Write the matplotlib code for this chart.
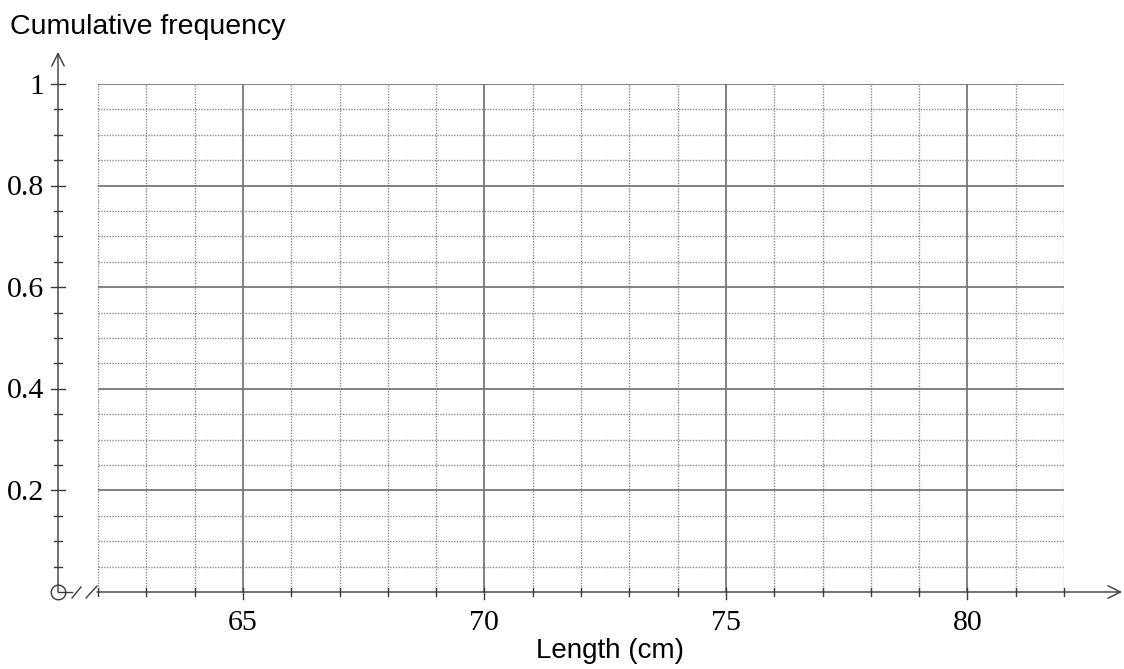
import matplotlib
matplotlib.use("Agg")
import matplotlib.pyplot as plt
import numpy as np

# ---- data (grid definition) ----
x_min, x_max = 62, 82
y_min, y_max = 0.0, 1.0
x_grid = list(range(62, 83))                      # vertical grid lines every 1 cm
x_major = [65, 70, 75, 80]                        # solid lines + labels
y_grid = [round(0.05 * i, 2) for i in range(1, 21)]  # horizontal grid lines every 0.05
y_major = [0.2, 0.4, 0.6, 0.8, 1.0]               # solid lines + labels
y_labels = ["0.2", "0.4", "0.6", "0.8", "1"]
x_labels = ["65", "70", "75", "80"]
x_title = "Length (cm)"
y_title = "Cumulative frequency"

W, H = 1124, 669
fig = plt.figure(figsize=(W / 100, H / 100), dpi=100)

# pixel geometry of the plotting grid
px_l, px_r = 98, 1064
py_top, py_bot = 84, 592
ax = fig.add_axes([px_l / W, 1 - py_bot / H, (px_r - px_l) / W, (py_bot - py_top) / H])
ax.set_xlim(x_min, x_max)
ax.set_ylim(y_min, y_max)
ax.axis("off")

sx = (px_r - px_l) / (x_max - x_min)   # px per x unit
sy = (py_bot - py_top) / (y_max - y_min)

def dx(px):
    return x_min + (px - px_l) / sx

def dy(py):
    return y_min + (py_bot - py) / sy

major_col = "#777777"
minor_col = "#8a8a8a"
axis_col = "#3a3a3a"

# vertical grid
for xv in x_grid:
    if xv in x_major:
        ax.vlines(xv, y_min, y_max, colors=major_col, lw=1.3)
    else:
        ax.vlines(xv, y_min, y_max, colors=minor_col, lw=1.0, linestyles=(0, (1, 1)))
# horizontal grid
for yv in y_grid:
    if any(abs(yv - m) < 1e-9 for m in y_major):
        ax.hlines(yv, x_min, x_max, colors=major_col, lw=1.3)
    else:
        ax.hlines(yv, x_min, x_max, colors=minor_col, lw=1.0, linestyles=(0, (1, 1)))

# ---- axes ----
ax_x = dx(58)   # y-axis position
ax.annotate("", xy=(ax_x, dy(52)), xytext=(ax_x, 0), xycoords="data",
            arrowprops=dict(arrowstyle="->,head_length=0.9,head_width=0.45",
                            lw=1.0, color=axis_col, mutation_scale=10,
                            shrinkA=0, shrinkB=0), annotation_clip=False)
ax.annotate("", xy=(dx(1122), 0), xytext=(dx(97), 0), xycoords="data",
            arrowprops=dict(arrowstyle="->,head_length=0.9,head_width=0.45",
                            lw=1.0, color=axis_col, mutation_scale=10,
                            shrinkA=0, shrinkB=0), annotation_clip=False)
ax.plot([ax_x, dx(72)], [0, 0], color=axis_col, lw=1.0, clip_on=False)
ax.plot([dx(72), dx(81)], [dy(598), dy(587)], color=axis_col, lw=1.0, clip_on=False)
ax.plot([dx(86), dx(97)], [dy(598), dy(586)], color=axis_col, lw=1.0, clip_on=False)
ax.plot([ax_x], [0], marker="o", ms=10.5, mfc="none", mec=axis_col, mew=1.0, clip_on=False)

# y ticks
for yv in y_grid:
    major = any(abs(yv - m) < 1e-9 for m in y_major)
    h = 7 if major else 4
    ax.plot([dx(58 - h), dx(58 + h)], [yv, yv], color=axis_col, lw=1.0, clip_on=False)
# x ticks
for xv in x_grid:
    major = xv in x_major
    ax.plot([xv, xv], [dy(588), dy(599 if major else 596)], color=axis_col, lw=1.0, clip_on=False)

serif = ["Liberation Serif", "DejaVu Serif"]
sans = ["Liberation Sans", "DejaVu Sans"]

for yv, lab in zip(y_major, y_labels):
    ax.text(dx(44), yv - 9.5 / sy, lab, ha="right", va="baseline", fontsize=21.5,
            family=serif, clip_on=False)
for xv, lab in zip(x_major, x_labels):
    ax.text(xv, dy(630.5), lab, ha="center", va="baseline", fontsize=21.5,
            family=serif, clip_on=False)

fig.text(10 / W, 1 - 27 / H, y_title, ha="left", va="center", fontsize=20.5, family=sans)
fig.text(610 / W, 1 - 651 / H, x_title, ha="center", va="center", fontsize=20, family=sans)

fig.savefig("out.png", dpi=100, facecolor="white")
